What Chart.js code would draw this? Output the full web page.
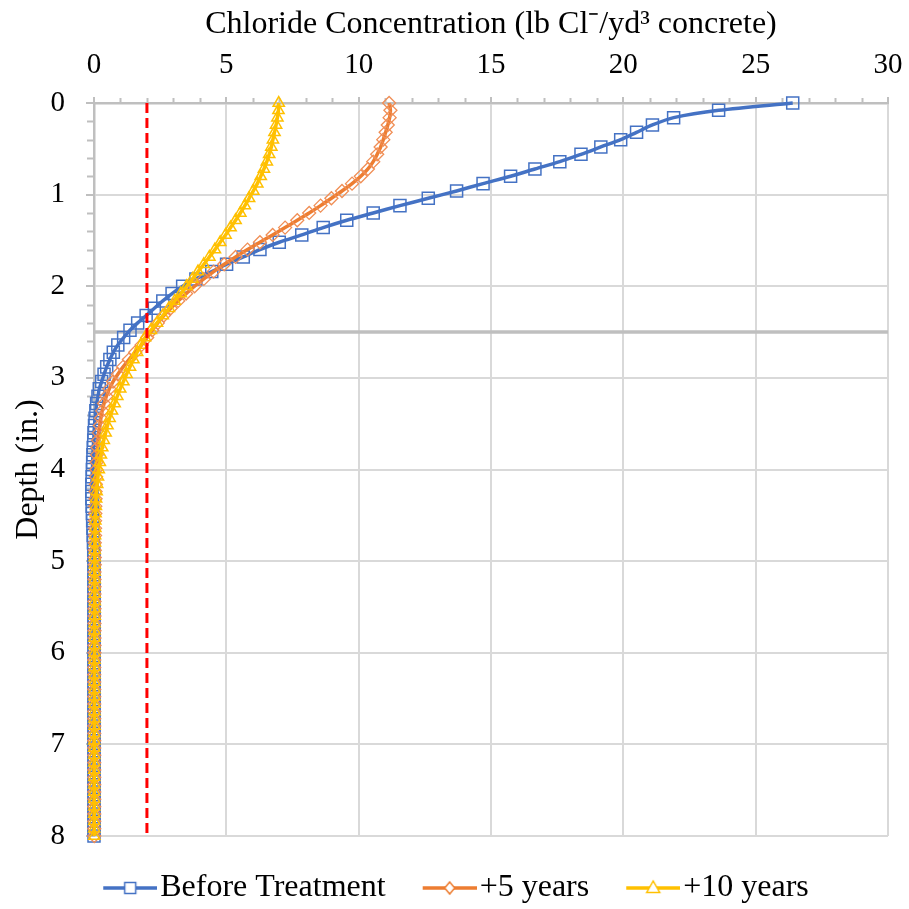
<!DOCTYPE html>
<html>
<head>
<meta charset="utf-8">
<script src="https://cdn.jsdelivr.net/npm/chart.js@4.4.1/dist/chart.umd.min.js"></script>
<style>
  html, body { margin: 0; padding: 0; background: #ffffff; }
  #wrap { width: 909px; height: 909px; }
</style>
</head>
<body>
<div id="wrap"><canvas id="c" width="909" height="909"></canvas></div>
<script>
// ---------- DATA ----------
const depths = [
  0.00, 0.08, 0.16, 0.24, 0.32, 0.40, 0.48, 0.56, 0.64, 0.72,
  0.80, 0.88, 0.96, 1.04, 1.12, 1.20, 1.28, 1.36, 1.44, 1.52,
  1.60, 1.68, 1.76, 1.84, 1.92, 2.00, 2.08, 2.16, 2.24, 2.32,
  2.40, 2.48, 2.56, 2.64, 2.72, 2.80, 2.88, 2.96, 3.04, 3.12,
  3.20, 3.28, 3.36, 3.44, 3.52, 3.60, 3.68, 3.76, 3.84, 3.92,
  4.00, 4.08, 4.16, 4.24, 4.32, 4.40, 4.48, 4.56, 4.64, 4.72,
  4.80, 4.88, 4.96, 5.04, 5.12, 5.20, 5.28, 5.36, 5.44, 5.52,
  5.60, 5.68, 5.76, 5.84, 5.92, 6.00, 6.08, 6.16, 6.24, 6.32,
  6.40, 6.48, 6.56, 6.64, 6.72, 6.80, 6.88, 6.96, 7.04, 7.12,
  7.20, 7.28, 7.36, 7.44, 7.52, 7.60, 7.68, 7.76, 7.84, 7.92,
  8.00
];

const beforeTreatment = [
  26.4, 23.6, 21.9, 21.1, 20.5, 19.9, 19.15, 18.4, 17.6, 16.66,
  15.74, 14.7, 13.7, 12.63, 11.56, 10.55, 9.55, 8.66, 7.85, 7.0,
  6.27, 5.64, 5.01, 4.45, 3.85, 3.35, 2.95, 2.6, 2.28, 1.97,
  1.65, 1.36, 1.12, 0.9, 0.73, 0.6, 0.48, 0.38, 0.29, 0.2,
  0.15, 0.1, 0.07, 0.04, 0.02, 0.0, -0.01, -0.03, -0.04, -0.05,
  -0.06, -0.07, -0.08, -0.08, -0.08, -0.07, -0.06, -0.05, -0.04, -0.03,
  -0.02, -0.01, 0, 0, 0, 0, 0, 0, 0, 0,
  0, 0, 0, 0, 0, 0, 0, 0, 0, 0,
  0, 0, 0, 0, 0, 0, 0, 0, 0, 0,
  0, 0, 0, 0, 0, 0, 0, 0, 0, 0,
  0
];

const plus5Years = [
  11.15, 11.2, 11.17, 11.1, 11.02, 10.93, 10.83, 10.7, 10.55, 10.35,
  10.08, 9.75, 9.37, 8.97, 8.56, 8.13, 7.68, 7.22, 6.75, 6.27,
  5.8, 5.35, 4.92, 4.52, 4.15, 3.8, 3.48, 3.18, 2.9, 2.64,
  2.41, 2.2, 2.01, 1.8, 1.56, 1.32, 1.1, 0.9, 0.72, 0.58,
  0.47, 0.38, 0.31, 0.26, 0.22, 0.18, 0.15, 0.13, 0.11, 0.1,
  0.09, 0.08, 0.07, 0.06, 0.06, 0.05, 0.05, 0.04, 0.04, 0.04,
  0.03, 0.03, 0.03, 0.03, 0.02, 0.02, 0.02, 0.02, 0.02, 0.02,
  0.02, 0.02, 0.02, 0.02, 0.02, 0.02, 0.01, 0.01, 0.01, 0.01,
  0.01, 0.01, 0.01, 0.01, 0.01, 0.01, 0.01, 0.01, 0.01, 0.01,
  0.01, 0.01, 0.01, 0.01, 0.01, 0.01, 0.01, 0.01, 0.01, 0.01,
  0.01
];

const plus10Years = [
  6.98, 6.97, 6.93, 6.88, 6.82, 6.76, 6.7, 6.62, 6.53, 6.42,
  6.3, 6.17, 6.02, 5.86, 5.7, 5.53, 5.35, 5.16, 4.97, 4.77,
  4.57, 4.36, 4.15, 3.93, 3.72, 3.5, 3.28, 3.05, 2.83, 2.6,
  2.38, 2.15, 1.93, 1.78, 1.63, 1.49, 1.36, 1.23, 1.11, 0.99,
  0.88, 0.78, 0.68, 0.59, 0.51, 0.44, 0.37, 0.31, 0.26, 0.22,
  0.18, 0.15, 0.12, 0.1, 0.08, 0.07, 0.06, 0.05, 0.05, 0.04,
  0.04, 0.03, 0.03, 0.03, 0.03, 0.03, 0.03, 0.03, 0.03, 0.03,
  0.03, 0.02, 0.02, 0.02, 0.02, 0.02, 0.02, 0.02, 0.02, 0.02,
  0.02, 0.02, 0.02, 0.02, 0.02, 0.02, 0.01, 0.01, 0.01, 0.01,
  0.01, 0.01, 0.01, 0.01, 0.01, 0.01, 0.01, 0.01, 0.01, 0.01,
  0.01
];

const seriesNames = ['Before Treatment', '+5 years', '+10 years'];
const thresholdX = [2, 2];          // red dashed line (concentration)
const thresholdDepth = [0, 8];
const rebarDepthX = [0, 30];        // gray horizontal line
const rebarDepth = [2.5, 2.5];
const xTicks = [0, 5, 10, 15, 20, 25, 30];
const yTicks = [0, 1, 2, 3, 4, 5, 6, 7, 8];

// ---------- STYLE ----------
const BLUE = '#4472C4', ORANGE = '#ED7D31', YELLOW = '#FFC000';
const SERIF = '"Liberation Serif", "Times New Roman", serif';

function pts(xs, ys) { return xs.map((v, i) => ({ x: v, y: ys[i] })); }

function makeIcon(color, style) {
  const L = 14, len = 54, W = L + len, H = 24;
  const c = document.createElement('canvas');
  c.width = W; c.height = H;
  const g = c.getContext('2d');
  g.strokeStyle = color; g.lineWidth = 3.5;
  g.beginPath(); g.moveTo(L, H / 2); g.lineTo(W, H / 2); g.stroke();
  const cx = L + len / 2, cy = H / 2;
  g.fillStyle = '#ffffff'; g.lineWidth = 1.5;
  g.beginPath();
  if (style === 'rect') { g.rect(cx - 5.5, cy - 5.5, 11, 11); }
  else if (style === 'rectRot') { g.moveTo(cx, cy - 6); g.lineTo(cx + 5, cy); g.lineTo(cx, cy + 6); g.lineTo(cx - 5, cy); g.closePath(); }
  else { g.moveTo(cx, cy - 7); g.lineTo(cx + 6.5, cy + 4.5); g.lineTo(cx - 6.5, cy + 4.5); g.closePath(); }
  g.fill(); g.stroke();
  return c;
}
const icons = [makeIcon(BLUE, 'rect'), makeIcon(ORANGE, 'rectRot'), makeIcon(YELLOW, 'triangle')];

const minorTicks = {
  id: 'minorTicks',
  beforeDatasetsDraw(chart) {
    const { ctx, scales: { x, y }, chartArea } = chart;
    ctx.save();
    ctx.strokeStyle = '#BFBFBF';
    ctx.lineWidth = 2;
    ctx.beginPath();
    for (let v = 1; v < 30; v++) {
      if (v % 5 === 0) continue;
      const px = Math.round(x.getPixelForValue(v)) + 0.5;
      ctx.moveTo(px, chartArea.top);
      ctx.lineTo(px, chartArea.top - 5);
    }
    for (let k = 1; k < 40; k++) {
      if (k % 5 === 0) continue;
      const py = Math.round(y.getPixelForValue(k / 5)) + 0.5;
      ctx.moveTo(chartArea.left, py);
      ctx.lineTo(chartArea.left - 7, py);
    }
    ctx.stroke();
    ctx.restore();
  }
};

const common = { showLine: true, clip: false, tension: 0.3, borderWidth: 3.5, pointHoverRadius: 0 };

new Chart(document.getElementById('c'), {
  type: 'scatter',
  data: {
    datasets: [
      Object.assign({}, common, {
        label: 'threshold', data: pts(thresholdX, thresholdDepth), borderColor: '#FF0000',
        borderWidth: 3, borderDash: [10, 5], pointRadius: 0, tension: 0, order: 0
      }),
      Object.assign({}, common, {
        label: seriesNames[2], data: pts(plus10Years, depths), borderColor: YELLOW,
        pointStyle: 'triangle', pointRadius: 6.5, pointBorderColor: YELLOW, pointBorderWidth: 1.5,
        pointBackgroundColor: 'rgba(0,0,0,0)', order: 1
      }),
      Object.assign({}, common, {
        label: seriesNames[1], data: pts(plus5Years, depths), borderColor: ORANGE,
        pointStyle: 'rectRot', pointRadius: 6.5, pointBorderColor: '#F08E55', pointBorderWidth: 1.3,
        pointBackgroundColor: 'rgba(0,0,0,0)', order: 2
      }),
      Object.assign({}, common, {
        label: seriesNames[0], data: pts(beforeTreatment, depths), borderColor: BLUE,
        pointStyle: 'rect', pointRadius: 8.5, pointBorderColor: BLUE, pointBorderWidth: 1.5,
        pointBackgroundColor: 'rgba(0,0,0,0)', order: 3
      }),
      Object.assign({}, common, {
        label: 'rebar', data: pts(rebarDepthX, rebarDepth), borderColor: '#BFBFBF',
        borderWidth: 3.5, pointRadius: 0, tension: 0, order: 4
      })
    ]
  },
  options: {
    responsive: false,
    animation: false,
    events: [],
    layout: { padding: { left: 15, right: 13, top: 0, bottom: -5 } },
    scales: {
      x: {
        type: 'linear', position: 'top', min: 0, max: 30,
        afterBuildTicks: (s) => { s.ticks = xTicks.map(v => ({ value: v })); },
        afterFit: (s) => { s.height = 103; s.paddingRight = 21; },
        ticks: { font: { family: SERIF, size: 29 }, color: '#000', padding: 14 },
        grid: { color: '#D9D9D9', lineWidth: 2, tickLength: 6, tickColor: '#BFBFBF', tickWidth: 2 },
        border: { color: '#BFBFBF', width: 2.5 },
        title: {
          display: true, text: 'Chloride Concentration (lb Cl\u207B/yd\u00B3 concrete)',
          font: { family: SERIF, size: 32 }, color: '#000', padding: { top: 5, bottom: 0 }
        }
      },
      y: {
        type: 'linear', position: 'left', min: 0, max: 8, reverse: true,
        afterBuildTicks: (s) => { s.ticks = yTicks.map(v => ({ value: v })); },
        afterFit: (s) => { s.width = 79; },
        ticks: { font: { family: SERIF, size: 29 }, color: '#000', padding: 21 },
        grid: { color: '#D9D9D9', lineWidth: 2, tickLength: 8, tickColor: '#BFBFBF', tickWidth: 2 },
        border: { color: '#BFBFBF', width: 2.5 },
        title: {
          display: true, text: 'Depth (in.)',
          font: { family: SERIF, size: 32 }, color: '#000', padding: { top: -6, bottom: 0 }
        }
      }
    },
    plugins: {
      tooltip: { enabled: false },
      legend: {
        position: 'bottom',
        labels: {
          usePointStyle: true,
          pointStyleWidth: 42,
          padding: 36,
          color: '#000',
          font: { family: SERIF, size: 32 },
          generateLabels: () => seriesNames.map((name, i) => ({
            text: name, pointStyle: icons[i], datasetIndex: 3 - i,
            fillStyle: 'rgba(0,0,0,0)', strokeStyle: 'rgba(0,0,0,0)', lineWidth: 0,
            hidden: false, fontColor: '#000'
          }))
        }
      }
    }
  },
  plugins: [minorTicks]
});
</script>
</body>
</html>
